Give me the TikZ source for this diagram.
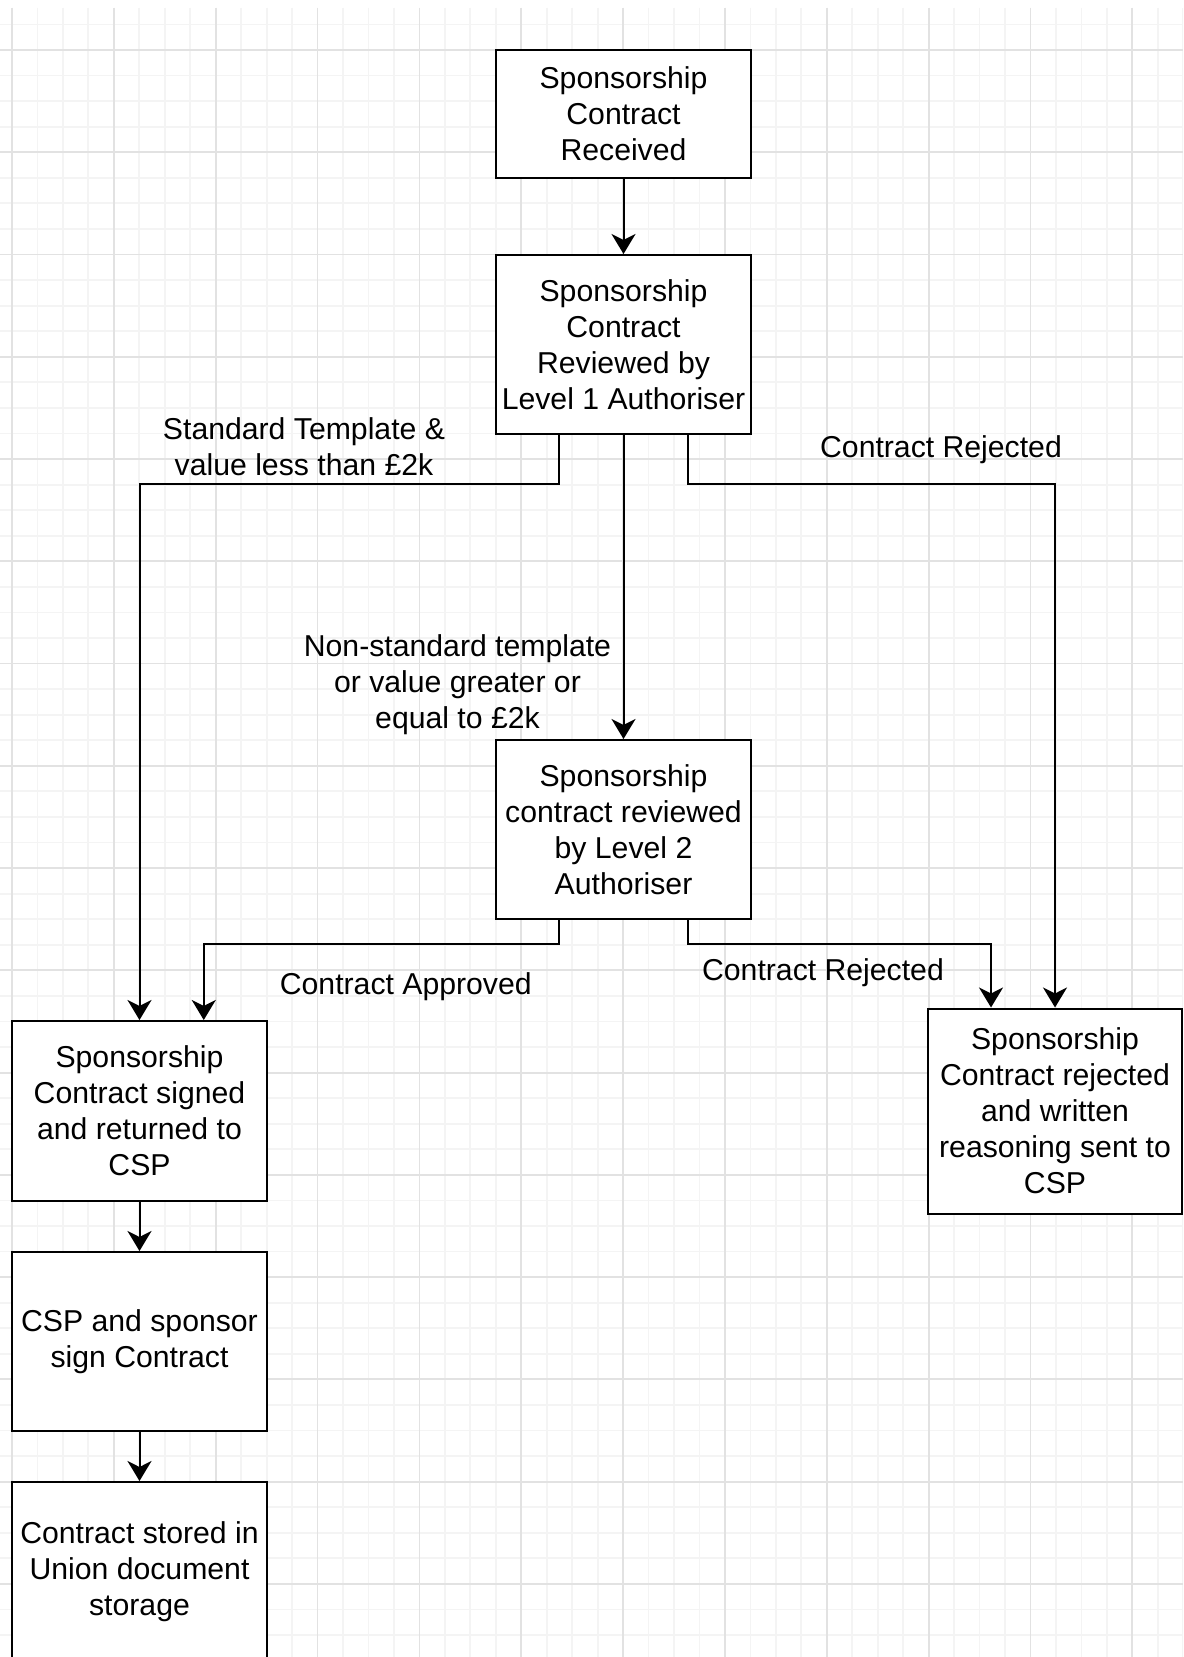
\documentclass[tikz,border=0pt]{standalone}
\usepackage{fontspec}
\setmainfont{Liberation Sans}
\usetikzlibrary{arrows.meta,calc}
\definecolor{gmajor}{RGB}{226,226,226}
\definecolor{gminor}{RGB}{244,244,244}
\begin{document}
\begin{tikzpicture}[x=0.5pt,y=-0.5pt,
  box/.style={draw=black, line width=1pt, fill=white, align=center, inner sep=0pt,
    minimum width=127.5pt, font=\fontsize{15.1}{18}\selectfont},
  lbl/.style={align=center, inner sep=0pt, font=\fontsize{15.1}{18}\selectfont},
  arr/.style={draw=black, line width=1pt, -{Stealth[length=10pt,width=12pt,inset=3pt]}},
  gridminor/.style={draw=gminor, line width=0.9pt},
  gridmajor/.style={draw=gmajor, line width=0.9pt}
]
\useasboundingbox (0,0) rectangle (1183,1657);
\clip (0,0) rectangle (1183,1657);
\fill[white] (0,0) rectangle (1183,1657);
% grid
\foreach \i in {0,...,46} {
  \pgfmathsetmacro\xx{12+\i*25.4625}
  \draw[gridminor] (\xx,8) -- (\xx,1657);
}
\foreach \i in {-1,...,63} {
  \pgfmathsetmacro\yy{50+\i*25.565}
  \draw[gridminor] (0,\yy) -- (1183,\yy);
}
\foreach \i in {0,...,11} {
  \pgfmathsetmacro\xx{12+\i*101.85}
  \draw[gridmajor] (\xx,8) -- (\xx,1657);
}
\foreach \i in {0,...,15} {
  \pgfmathsetmacro\yy{50+\i*102.26}
  \draw[gridmajor] (0,\yy) -- (1183,\yy);
}
% boxes
\node[box, minimum height=64pt] (b1) at (623.5,114) {Sponsorship\\Contract\\Received};
\node[box, minimum height=89.5pt] (b2) at (623.5,344.5) {Sponsorship\\Contract\\Reviewed by\\Level 1 Authoriser};
\node[box, minimum height=89.5pt] (b3) at (623.5,829.5) {Sponsorship\\contract reviewed\\by Level 2\\Authoriser};
\node[box, minimum height=90pt] (b4) at (139.5,1111) {Sponsorship\\Contract signed\\and returned to\\CSP};
\node[box, minimum height=89.5pt] (b5) at (139.5,1341.5) {CSP and sponsor\\sign Contract};
\node[box, minimum height=90pt] (b6) at (139.5,1572) {Contract stored in\\Union document\\storage};
\node[box, minimum width=127pt, minimum height=102.5pt] (b7) at (1055,1111) {Sponsorship\\Contract rejected\\and written\\reasoning sent to\\CSP};
% anchor points
\coordinate (b2l) at ($(b2.south west)!0.25!(b2.south east)$);
\coordinate (b2r) at ($(b2.south west)!0.75!(b2.south east)$);
\coordinate (b3l) at ($(b3.south west)!0.25!(b3.south east)$);
\coordinate (b3r) at ($(b3.south west)!0.75!(b3.south east)$);
\coordinate (b4r) at ($(b4.north west)!0.75!(b4.north east)$);
\coordinate (b7l) at ($(b7.north west)!0.25!(b7.north east)$);
\coordinate (j1) at (0,484);
\coordinate (j2) at (0,944);
% connectors
\draw[arr] (b1.south) -- (b2.north);
\draw[arr] (b2l) -- (b2l |- j1) -| (b4.north);
\draw[arr] (b2.south) -- (b3.north);
\draw[arr] (b2r) -- (b2r |- j1) -| (b7.north);
\draw[arr] (b3l) -- (b3l |- j2) -| (b4r);
\draw[arr] (b3r) -- (b3r |- j2) -| (b7l);
\draw[arr] (b4.south) -- (b5.north);
\draw[arr] (b5.south) -- (b6.north);
% labels
\node[lbl] (l1) at (304,447) {Standard Template \&\\value less than £2k};
\node[lbl] (l2) at (457.5,684.5) {Non-standard template\\or value greater or\\equal to £2k};
\node[lbl] (l3) at (405.8,987) {Contract Approved};
\node[lbl] (l4) at (941,450) {Contract Rejected};
\node[lbl] (l5) at (823,973) {Contract Rejected};
\end{tikzpicture}
\end{document}
